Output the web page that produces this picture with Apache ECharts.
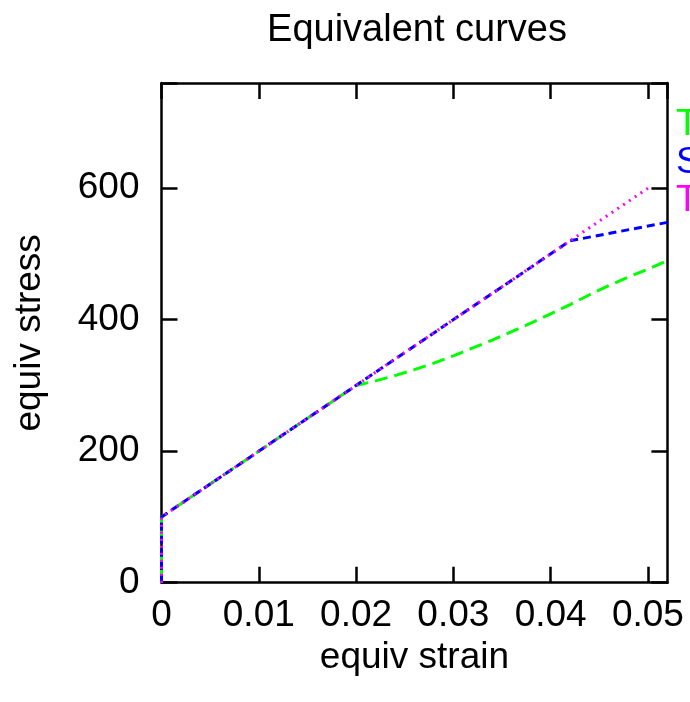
<!DOCTYPE html>
<html>
<head>
<meta charset="utf-8">
<script src="https://cdn.jsdelivr.net/npm/echarts@6/dist/echarts.min.js"></script>
<style>html,body{margin:0;padding:0;background:#fff}#c{width:690px;height:702px}</style>
</head>
<body>
<div id="c"></div>
<script>
var seriesNames = ['Tension', 'Shear', 'Torsion'];
var tensionStrain = [0, 0, 0.020, 0.022, 0.024, 0.026, 0.028, 0.030, 0.032, 0.034, 0.036, 0.038, 0.040, 0.042, 0.044, 0.046, 0.048, 0.050, 0.052];
var tensionStress = [0, 100, 300, 307, 315, 324, 334, 345, 357, 369, 382, 395, 409, 423, 438, 452, 465, 477, 490];
var shearStrain = [0, 0, 0.042, 0.047, 0.052];
var shearStress = [0, 100, 520, 534, 548];
var torsionStrain = [0, 0, 0.050];
var torsionStress = [0, 100, 600];
var xTicks = [0, 0.01, 0.02, 0.03, 0.04, 0.05];
var yTicks = [0, 200, 400, 600];

function pairs(xs, ys) { return xs.map(function (x, i) { return [x, ys[i]]; }); }

var FONT = 'Liberation Sans';
var colors = ['#00ff00', '#0000ff', '#ff00ff'];
var dashes = [[13, 7], [8, 5], [2, 5]];
var dataSets = [pairs(tensionStrain, tensionStress), pairs(shearStrain, shearStress), pairs(torsionStrain, torsionStress)];

var axisLineStyle = { color: '#000', width: 2.5 };
function baseX(show) {
  return {
    type: 'value', min: 0, max: 0.052, interval: 0.01,
    position: show ? 'bottom' : 'top',
    axisLine: { show: true, onZero: false, lineStyle: axisLineStyle },
    axisTick: { show: true, inside: true, length: 16, lineStyle: axisLineStyle },
    axisLabel: {
      show: show, color: '#000', fontFamily: FONT, fontSize: 37, margin: 15,
      formatter: function (v) {
        var r = Math.round(v * 100) / 100;
        return xTicks.indexOf(r) >= 0 ? String(r) : '';
      }
    },
    splitLine: { show: false },
    name: show ? 'equiv strain' : '', nameLocation: 'middle', nameGap: 57,
    nameTextStyle: { color: '#000', fontFamily: FONT, fontSize: 37 }
  };
}
function baseY(show) {
  return {
    type: 'value', min: 0, max: 760, interval: 200,
    position: show ? 'left' : 'right',
    axisLine: { show: true, onZero: false, lineStyle: axisLineStyle },
    axisTick: { show: true, inside: true, length: 16, lineStyle: axisLineStyle },
    axisLabel: {
      show: show, color: '#000', fontFamily: FONT, fontSize: 37, margin: 22,
      formatter: function (v) { return yTicks.indexOf(v) >= 0 ? String(v) : ''; }
    },
    splitLine: { show: false },
    name: show ? 'equiv stress' : '', nameLocation: 'middle', nameGap: 113,
    nameTextStyle: { color: '#000', fontFamily: FONT, fontSize: 37 }
  };
}

var chart = echarts.init(document.getElementById('c'), null, { renderer: 'canvas' });
chart.setOption({
  animation: false,
  backgroundColor: '#fff',
  title: {
    text: 'Equivalent curves', left: 412, top: 7, textAlign: 'center',
    textStyle: { color: '#000', fontFamily: FONT, fontSize: 38, fontWeight: 'normal' }
  },
  legend: {
    orient: 'vertical', left: 666, top: 101, itemGap: 1,
    icon: 'none', itemWidth: 0, itemHeight: 10,
    data: seriesNames.map(function (n, i) { return { name: n, textStyle: { color: colors[i] } }; }),
    textStyle: { fontFamily: FONT, fontSize: 37 }
  },
  grid: { left: 161.5, right: 22.6, top: 83, bottom: 119.3, containLabel: false },
  xAxis: [baseX(true), baseX(false)],
  yAxis: [baseY(true), baseY(false)],
  series: seriesNames.map(function (n, i) {
    return {
      name: n, type: 'line', xAxisIndex: 0, yAxisIndex: 0,
      data: dataSets[i], showSymbol: false, symbol: 'none', smooth: false,
      lineStyle: { color: colors[i], width: 3, type: dashes[i] },
      itemStyle: { color: colors[i] },
      clip: true
    };
  })
});
</script>
</body>
</html>
